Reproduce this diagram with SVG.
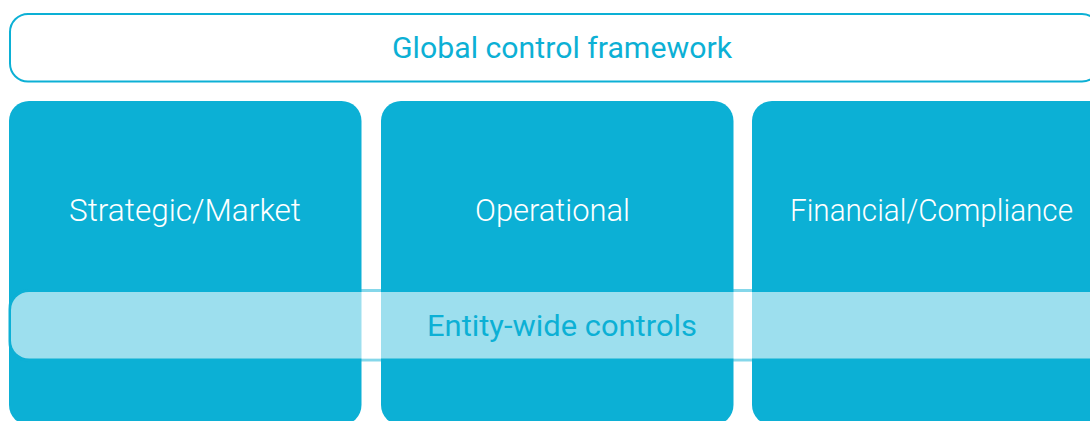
<svg xmlns="http://www.w3.org/2000/svg" width="1090" height="421" viewBox="0 0 1090 421">
<style>
.col{fill:#0cb0d5}
.lbl{font-family:Roboto,"Liberation Sans",sans-serif;font-size:31px;font-weight:300;fill:#ffffff;text-anchor:middle}
.tl{font-family:Roboto,"Liberation Sans",sans-serif;font-size:30px;font-weight:400;fill:#0cb0d5;text-anchor:middle}
</style>
<rect width="1090" height="421" fill="#ffffff"/>
<g id="global">
<rect x="10" y="14" width="1090" height="67.5" rx="18" fill="#ffffff" stroke="#0cb0d5" stroke-width="2"/>
<text class="tl" x="562" y="57.5" textLength="340" lengthAdjust="spacingAndGlyphs">Global control framework</text>
</g>
<g id="strategic">
<rect class="col" x="9" y="101" width="352.5" height="324" rx="20"/>
<text class="lbl" x="185" y="221" textLength="232" lengthAdjust="spacingAndGlyphs">Strategic/Market</text>
</g>
<g id="operational">
<rect class="col" x="381" y="101" width="352.5" height="324" rx="20"/>
<text class="lbl" x="552.5" y="221" textLength="155" lengthAdjust="spacingAndGlyphs">Operational</text>
</g>
<g id="financial">
<rect class="col" x="752" y="101" width="360" height="324" rx="20"/>
<text class="lbl" x="931.5" y="220.5" textLength="283" lengthAdjust="spacingAndGlyphs">Financial/Compliance</text>
</g>
<g id="entity">
<rect x="9.5" y="290.5" width="1100" height="69.5" rx="19" fill="none" stroke="#0cb0d5" stroke-opacity="0.5" stroke-width="3"/>
<rect x="11" y="292" width="1100" height="66.5" rx="18" fill="#ffffff" fill-opacity="0.6"/>
<text class="tl" x="562" y="336" textLength="270" lengthAdjust="spacingAndGlyphs">Entity-wide controls</text>
</g>
<g id="connectors"/>
</svg>
